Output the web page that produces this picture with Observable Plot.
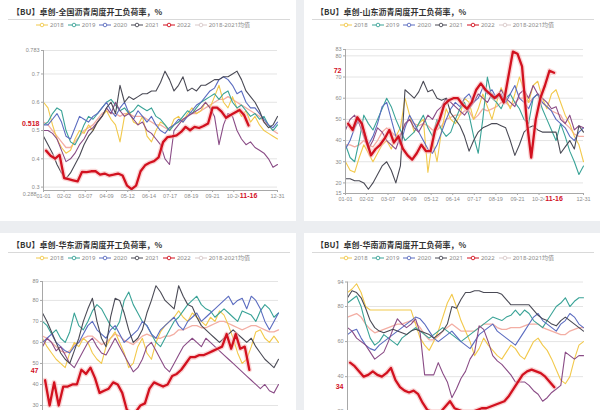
<!DOCTYPE html>
<html><head><meta charset="utf-8">
<script src="https://cdn.jsdelivr.net/npm/d3@7"></script>
<script src="https://cdn.jsdelivr.net/npm/@observablehq/plot@0.6"></script>
<style>
html,body{margin:0;padding:0}
body{background:#eceef1;width:600px;height:410px;overflow:hidden;position:relative;font-family:"Noto Sans","Noto Sans CJK SC",sans-serif}
.panel{position:absolute;background:#fff;overflow:hidden}
.title{position:absolute;left:12px;top:7px;font-family:"Noto Sans CJK SC";font-weight:700;font-size:8px;line-height:10px;color:#333;white-space:nowrap}
.sep{position:absolute;left:8px;right:6px;top:19px;height:1px;background:#d9d9d9}
.legend{position:absolute;left:36px;top:21px;display:flex;gap:4px;font-size:6px;line-height:8px;color:#8a8a8a;white-space:nowrap;align-items:center}
.legend span.item{display:flex;align-items:center;gap:2px}
</style></head>
<body>
<script>
// ---------- data ----------
const legendNames = ["2018","2019","2020","2021","2022","2018-2021均值"];
const xTickLabels = ["01-01","02-02","03-07","04-09","05-12","06-14","07-17","08-19","09-21","10-24","12-31"];
const lastDate = "11-16";

const titles = ["【BU】卓创-全国沥青周度开工负荷率，%","【BU】卓创-山东沥青周度开工负荷率，%","【BU】卓创-华东沥青周度开工负荷率，%","【BU】卓创-华南沥青周度开工负荷率，%"];

// national (fraction)
const nat2018 = [0.60,0.58,0.52,0.47,0.44,0.42,0.43,0.47,0.50,0.49,0.52,0.50,0.53,0.55,0.57,0.54,0.52,0.46,0.55,0.57,0.53,0.52,0.55,0.48,0.46,0.50,0.53,0.52,0.50,0.54,0.55,0.53,0.56,0.58,0.56,0.57,0.60,0.58,0.62,0.66,0.60,0.58,0.62,0.58,0.55,0.57,0.53,0.55,0.52,0.50,0.49,0.48,0.47];
const nat2019 = [0.52,0.53,0.56,0.58,0.57,0.50,0.46,0.45,0.48,0.52,0.55,0.54,0.56,0.58,0.60,0.61,0.59,0.57,0.58,0.56,0.57,0.59,0.58,0.57,0.58,0.55,0.54,0.52,0.50,0.52,0.53,0.55,0.57,0.56,0.58,0.60,0.61,0.62,0.63,0.61,0.63,0.64,0.60,0.58,0.59,0.57,0.55,0.56,0.54,0.55,0.52,0.50,0.52];
const nat2020 = [0.52,0.52,0.54,0.56,0.53,0.48,0.47,0.51,0.55,0.54,0.53,0.55,0.56,0.58,0.60,0.57,0.55,0.58,0.60,0.56,0.54,0.57,0.55,0.53,0.55,0.52,0.50,0.49,0.51,0.52,0.54,0.53,0.55,0.57,0.59,0.60,0.62,0.64,0.65,0.68,0.69,0.68,0.66,0.63,0.64,0.60,0.58,0.58,0.56,0.54,0.52,0.51,0.53];
const nat2021 = [0.48,0.45,0.42,0.38,0.35,0.33,0.35,0.38,0.41,0.45,0.48,0.50,0.53,0.55,0.58,0.60,0.56,0.66,0.60,0.62,0.61,0.62,0.63,0.63,0.64,0.64,0.67,0.71,0.68,0.64,0.66,0.69,0.64,0.65,0.64,0.66,0.66,0.67,0.68,0.68,0.69,0.69,0.70,0.71,0.68,0.64,0.62,0.60,0.57,0.53,0.51,0.52,0.55];
const nat2017 = [0.50,0.50,0.49,0.47,0.43,0.39,0.40,0.42,0.45,0.47,0.50,0.51,0.53,0.55,0.58,0.56,0.60,0.57,0.55,0.56,0.54,0.52,0.53,0.50,0.49,0.47,0.45,0.40,0.38,0.50,0.52,0.54,0.55,0.56,0.57,0.58,0.60,0.58,0.55,0.45,0.52,0.56,0.55,0.50,0.47,0.45,0.46,0.44,0.43,0.42,0.40,0.37,0.38];
const natMean = [0.53,0.52,0.50,0.48,0.46,0.44,0.44,0.46,0.48,0.50,0.51,0.52,0.54,0.56,0.57,0.56,0.56,0.55,0.56,0.56,0.55,0.55,0.55,0.54,0.53,0.52,0.52,0.51,0.50,0.52,0.53,0.54,0.55,0.56,0.56,0.57,0.58,0.59,0.60,0.61,0.61,0.62,0.61,0.60,0.59,0.58,0.57,0.56,0.55,0.53,0.52,0.50,0.49];
const nat2022 = [0.429,0.411,0.401,0.414,0.332,0.328,0.324,0.320,0.354,0.353,0.356,0.356,0.344,0.348,0.341,0.344,0.348,0.341,0.305,0.293,0.305,0.356,0.377,0.386,0.392,0.405,0.459,0.477,0.479,0.483,0.495,0.513,0.501,0.513,0.509,0.516,0.525,0.581,0.581,0.567,0.545,0.555,0.564,0.573,0.555,0.518];

// Shandong
const sd2018 = [30,26,25,32,38,34,30,34,38,40,36,42,46,60,52,44,48,50,25,40,30,45,55,50,48,52,60,58,50,55,62,56,50,58,65,60,55,62,70,64,58,66,68,60,55,62,64,58,52,48,42,38,30];
const sd2019 = [38,32,30,40,52,48,45,50,55,60,56,50,45,40,42,44,48,52,46,42,50,45,42,44,50,55,58,52,42,34,50,70,60,58,55,60,62,58,55,50,48,60,62,55,50,45,40,48,42,35,30,24,28];
const sd2020 = [36,40,46,50,45,38,42,48,56,58,50,42,38,46,52,48,44,40,36,34,38,44,50,55,58,56,60,62,58,60,65,62,64,60,62,58,62,66,60,58,55,60,62,58,56,54,50,48,46,42,40,44,46];
const sd2021 = [22,22,21,21,20,17,20,24,28,30,26,20,28,64,62,60,63,68,63,64,60,59,60,53,50,47,42,35,40,44,46,47,48,48,47,46,40,33,38,44,46,47,45,44,44,44,44,34,37,40,36,47,44];
const sd2017 = [45,50,52,48,42,36,40,46,44,40,38,36,42,48,50,46,44,48,52,50,54,56,60,58,56,54,52,55,58,62,60,58,62,60,64,60,58,56,62,64,60,66,62,60,58,55,56,50,48,52,45,47,46];
const sdMean = [38,38,37,38,40,38,37,40,44,46,44,42,43,47,50,48,47,48,47,45,45,47,50,51,52,52,54,54,50,52,55,54,55,56,58,58,56,58,60,60,58,60,62,58,56,54,53,52,48,46,43,42,42];
const sd2022 = [48,45,51,48,40,33,36,38,41,45,39,42,36,33,31,34,38,35,35,45,50,57,59,60,60,57,55,58,64,67,64,62,60,62,58,70,82,81,75,50,32,50,60,66,73,72];

// East China
const ec2018 = [62,58,55,52,50,48,55,60,58,62,60,55,52,50,58,62,65,60,55,48,50,58,62,55,52,60,65,68,70,72,75,72,70,74,72,70,68,72,70,75,73,68,62,55,50,52,58,65,66,62,60,63,60];
const ec2019 = [70,68,64,66,62,60,65,74,68,66,70,75,78,76,72,68,66,70,80,84,78,74,70,68,64,60,58,62,66,70,72,75,78,80,82,78,76,75,72,74,76,74,72,70,75,74,73,70,75,78,76,72,74];
const ec2020 = [60,62,64,60,58,56,55,58,60,64,68,70,66,64,62,66,68,64,60,62,64,66,70,68,64,62,66,68,70,72,68,66,70,72,74,70,72,74,76,78,80,82,78,80,81,76,82,80,76,70,66,70,74];
const ec2021 = [74,70,65,60,55,52,50,56,62,70,76,81,70,62,58,72,81,80,74,66,60,62,66,74,80,87,84,80,78,76,87,82,78,77,72,68,66,64,62,60,62,64,66,64,62,60,62,58,55,52,50,48,52];
const ec2017 = [58,62,60,56,58,54,50,48,52,56,60,62,58,55,54,58,62,58,54,50,46,48,52,58,60,56,52,48,46,50,54,58,60,62,60,58,62,60,58,56,54,52,50,48,46,44,42,40,38,40,37,36,40];
const ecMean = [63,62,60,58,56,55,56,59,60,62,63,63,61,59,60,62,64,63,61,60,59,61,63,64,63,62,62,63,63,64,66,66,67,68,68,67,67,68,69,70,70,69,68,67,66,67,68,68,67,66,65,65,66];
const ec2022 = [42,30,41,30,39,39,40,40,47,45,48,43,36,37,38,41,40,36,28,26,27,30,31,38,41,40,39,40,44,45,47,50,53,53,54,54,55,56,57,58,64,57,64,57,58,47];

// South China
const sc2018 = [88,90,93,88,80,78,78,78,78,78,78,78,78,78,78,70,62,58,55,60,66,74,82,87,80,72,66,60,52,56,62,58,55,52,50,54,58,56,52,50,55,60,62,58,55,50,44,38,36,40,50,58,60];
const sc2019 = [82,84,86,80,70,62,58,60,64,62,60,58,62,64,66,68,66,64,62,64,66,68,66,64,62,60,62,64,66,68,70,72,74,73,72,74,75,78,75,78,76,72,70,68,72,76,80,82,85,80,83,85,85];
const sc2020 = [64,66,67,62,58,56,55,58,60,62,64,66,68,70,72,74,73,70,66,62,60,62,64,66,63,60,58,56,60,64,66,68,70,66,64,62,60,58,62,66,70,74,76,72,70,68,66,70,72,76,74,70,68];
const sc2021 = [85,89,88,85,79,72,68,66,65,66,67,66,65,64,66,67,66,65,64,62,64,66,70,80,79,84,88,88,89,89,88,88,88,88,87,84,81,81,81,81,81,78,75,73,72,70,69,72,74,72,70,68,66];
const sc2017 = [68,66,62,60,58,54,50,52,54,60,67,73,70,68,70,73,65,41,41,41,48,42,37,28,33,39,43,50,54,69,67,60,52,49,47,44,41,37,37,37,35,32,30,26,28,31,33,35,54,52,50,52,52];
const scMean = [74,75,76,74,70,67,65,66,67,68,69,70,70,71,72,71,68,64,61,61,63,66,68,70,68,66,66,66,66,68,70,70,70,68,67,67,68,68,68,69,70,70,70,68,67,66,65,64,64,66,67,68,68];
const sc2022 = [48,46,43,40,41,43,41,40,42,45,38,34,32,31,32,30,25,21,20,20,20,23,26,22,21,20,20,20,21,22,22,23,24,25,26,29,33,37,41,43,44,43,42,40,37,34];

// y-axis ticks per panel
const natTicks = [0.3,0.4,0.5,0.6,0.7,0.783];
const sdTicks = [15,20,30,40,50,60,70,80,83];
const ecTicks = [30,40,50,60,70,80,89];
const scTicks = [20,40,60,80,94];

// ---------- styling ----------
const colors = {"2017":"#8a4c86","2018":"#f2c94c","2019":"#3aa397","2020":"#5b6cc0","2021":"#4a4a55","2022":"#d2111f","mean":"#f3aea4"};
const legendColors = [colors["2018"],colors["2019"],colors["2020"],colors["2021"],colors["2022"],"#d9c9c9"];

function weekOf(md){const [m,d]=md.split("-").map(Number);return (Date.UTC(2022,m-1,d)-Date.UTC(2022,0,1))/864e5/7;}
const xTicks = xTickLabels.map(weekOf);
const xLabelMap = new Map(xTicks.map((t,i)=>[t,xTickLabels[i]]));
const lastWeek = weekOf(lastDate);

function pts(arr){return arr.map((v,i)=>({x:i,y:v}));}
function redPts(arr){const n=arr.length;return arr.map((v,i)=>({x:lastWeek-(n-1-i),y:v}));}

const panels = [
 {left:0,top:0,w:296,h:221,title:titles[0],s:[natMean,nat2018,nat2019,nat2020,nat2017,nat2021],red:nat2022,ydom:[0.288,0.783],ticks:natTicks,minLabel:"0.288",redLabel:"0.518",redDy:-2,svgH:175,ml:43,mr:19,mt:10,mb:25,xaxis:true},
 {left:304,top:0,w:296,h:221,title:titles[1],s:[sdMean,sd2018,sd2019,sd2020,sd2017,sd2021],red:sd2022,ydom:[15,83],ticks:sdTicks,redLabel:"72",redDy:-2,svgH:175,ml:41,mr:17,mt:9,mb:22,xaxis:true},
 {left:0,top:233,w:296,h:177,title:titles[2],s:[ecMean,ec2018,ec2019,ec2020,ec2017,ec2021],red:ec2022,ydom:[20,89],ticks:ecTicks,redLabel:"47",redDy:0.5,svgH:178,ml:42,mr:18,mt:8,mb:25,xaxis:false},
 {left:304,top:233,w:296,h:177,title:titles[3],s:[scMean,sc2018,sc2019,sc2020,sc2017,sc2021],red:sc2022,ydom:[15,94],ticks:scTicks,redLabel:"34",redDy:0,svgH:172,ml:43,mr:17,mt:8.5,mb:25,xaxis:false}
];
const seriesColors = [colors.mean,colors["2018"],colors["2019"],colors["2020"],colors["2017"],colors["2021"]];

panels.forEach(p=>{
  const div=document.createElement("div");
  div.className="panel";
  Object.assign(div.style,{left:p.left+"px",top:p.top+"px",width:p.w+"px",height:p.h+"px"});
  const t=document.createElement("div");t.className="title";t.textContent=p.title;div.appendChild(t);
  const sep=document.createElement("div");sep.className="sep";div.appendChild(sep);
  const lg=document.createElement("div");lg.className="legend";
  legendNames.forEach((n,i)=>{
    const it=document.createElement("span");it.className="item";
    const c=legendColors[i];
    it.innerHTML=`<svg width="12" height="6"><line x1="0" y1="3" x2="12" y2="3" stroke="${c}" stroke-width="1"/><circle cx="6" cy="3" r="1.8" fill="#fff" stroke="${c}" stroke-width="0.9"/></svg><span>${n}</span>`;
    lg.appendChild(it);
  });
  div.appendChild(lg);

  const marks=[
    Plot.gridY(p.ticks,{stroke:"#e4e4e4",strokeOpacity:1}),
    ...p.s.map((arr,i)=>Plot.line(pts(arr),{x:"x",y:"y",stroke:seriesColors[i],strokeWidth:i===0?1.3:1.1})),
    Plot.line(redPts(p.red),{x:"x",y:"y",stroke:"#f6b5b5",strokeWidth:5,strokeOpacity:0.55}),
    Plot.line(redPts(p.red),{x:"x",y:"y",stroke:colors["2022"],strokeWidth:2.3}),
    Plot.ruleX([0],{stroke:"#a8a8a8"}),
    Plot.axisY(p.ticks,{tickSize:2,tickPadding:2,stroke:"#a8a8a8",fill:"#8a8a8a",label:null,tickFormat:d=>String(d)}),
    Plot.text([p.red[p.red.length-1]],{y:d=>d,frameAnchor:"left",dx:-4,dy:p.redDy,textAnchor:"end",text:()=>p.redLabel,fill:colors["2022"],fontWeight:"bold",fontSize:7,stroke:"#fff",strokeWidth:2.5,paintOrder:"stroke"})
  ];
  if(p.xaxis){
    marks.push(
      Plot.ruleY([p.ydom[0]],{stroke:"#a8a8a8"}),
      Plot.axisX(xTicks,{tickSize:2,tickPadding:2,stroke:"#a8a8a8",fill:"#8a8a8a",label:null,tickFormat:d=>xLabelMap.get(d)}),
      Plot.text([lastWeek],{x:d=>d,frameAnchor:"bottom",dy:7.5,text:()=>lastDate,fill:colors["2022"],fontWeight:"bold",fontSize:7,stroke:"#fff",strokeWidth:3,paintOrder:"stroke"})
    );
  }
  if(p.minLabel) marks.push(Plot.text([p.ydom[0]],{y:d=>d,frameAnchor:"left",dx:-7,dy:3.5,textAnchor:"end",text:()=>p.minLabel,fill:"#8a8a8a"}));

  const svg=Plot.plot({
    width:p.w,height:p.svgH,
    marginLeft:p.ml,marginRight:p.mr,marginTop:p.mt,marginBottom:p.mb,
    x:{domain:[0,52],axis:null},
    y:{domain:p.ydom,axis:null},
    style:{fontFamily:"Liberation Sans, Arial, sans-serif",fontSize:"5.5px",background:"transparent",overflow:"visible",color:"#8a8a8a"},
    marks
  });
  svg.style.position="absolute";svg.style.left="0px";svg.style.top="40px";svg.style.maxWidth="none";
  div.appendChild(svg);
  document.body.appendChild(div);
});
</script>
</body></html>
